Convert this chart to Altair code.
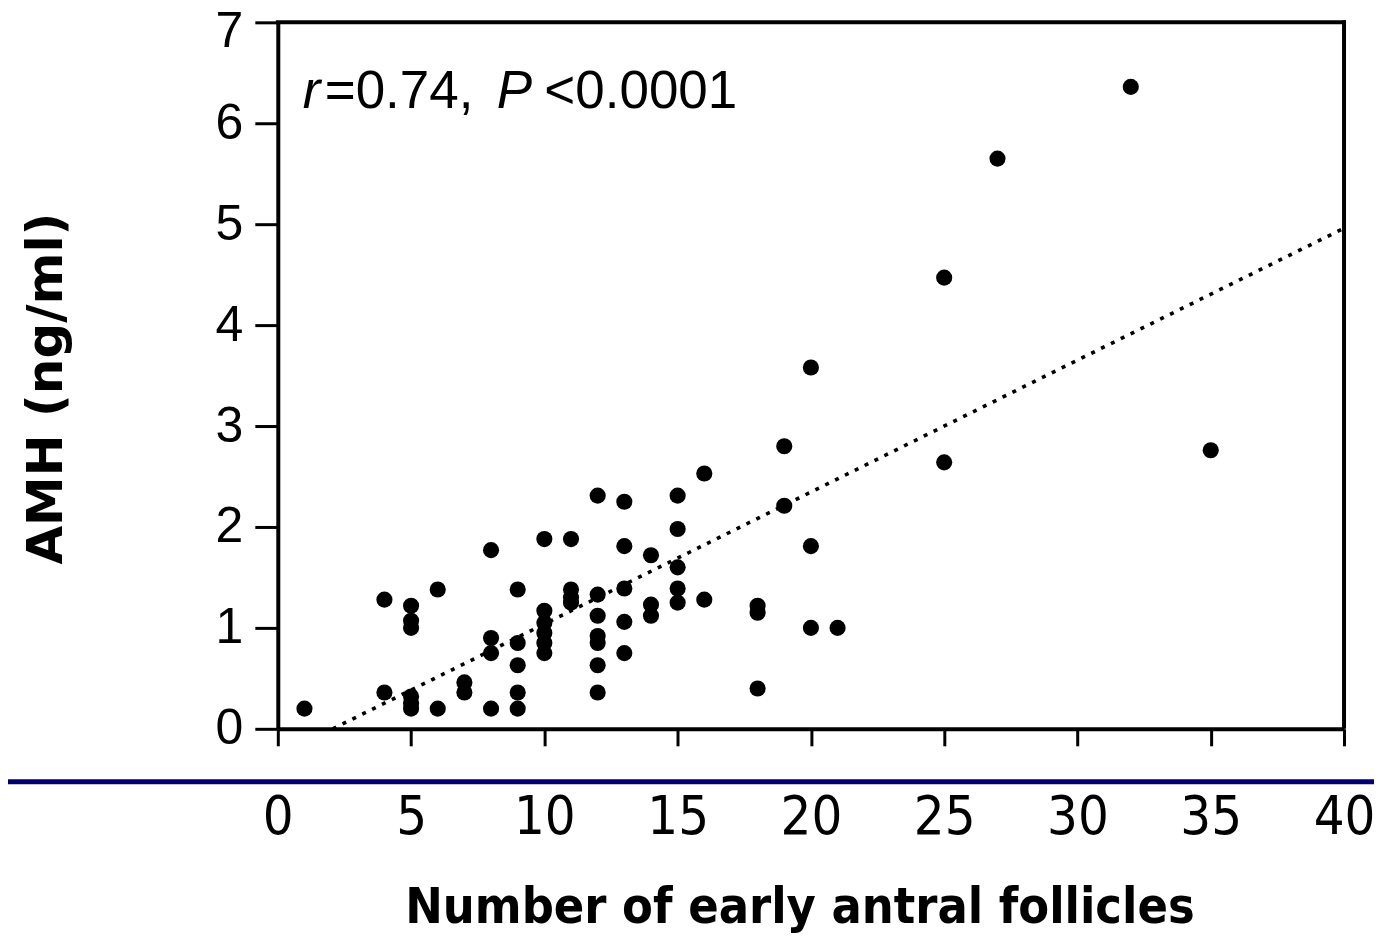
import altair as alt
import pandas as pd

# Scatter data
follicles = [1,
             4, 4,
             5, 5, 5, 5, 5, 5,
             6, 6,
             7, 7,
             8, 8, 8, 8,
             9, 9, 9, 9, 9,
             10, 10, 10, 10, 10, 10,
             11, 11, 11, 11,
             12, 12, 12, 12, 12, 12, 12,
             13, 13, 13, 13, 13,
             14, 14, 14,
             15, 15, 15, 15, 15,
             16, 16,
             18, 18, 18,
             19, 19,
             20, 20, 20,
             21,
             25, 25,
             27,
             32,
             35]
amh = [0.2,
       1.28, 0.36,
       1.22, 1.07, 1.0, 0.32, 0.25, 0.2,
       1.38, 0.2,
       0.46, 0.36,
       1.77, 0.9, 0.75, 0.2,
       1.38, 0.85, 0.63, 0.36, 0.2,
       1.88, 1.17, 1.05, 0.95, 0.85, 0.75,
       1.88, 1.38, 1.3, 1.25,
       2.31, 1.33, 1.12, 0.92, 0.85, 0.63, 0.36,
       2.25, 1.81, 1.39, 1.06, 0.75,
       1.72, 1.23, 1.12,
       2.31, 1.98, 1.6, 1.39, 1.25,
       2.53, 1.28,
       1.22, 1.15, 0.4,
       2.8, 2.21,
       3.58, 1.81, 1.0,
       1.0,
       4.47, 2.64,
       5.65,
       6.36,
       2.76]

# Regression line end points
fit_x = [2.06, 40]
fit_y = [0.0, 4.96]

# Annotation pieces
ann_text = ["r", "=0.74,", "P", "<0.0001"]
ann_x = [0.94, 1.76, 8.21, 10.0]
ann_italic = [True, False, True, False]
ann_y = 6.15

x_ticks = [0, 5, 10, 15, 20, 25, 30, 35, 40]
y_ticks = [0, 1, 2, 3, 4, 5, 6, 7]

W, H = 1067, 707

pts = pd.DataFrame({"x": follicles, "y": amh})
fit = pd.DataFrame({"x": fit_x, "y": fit_y})
ann = pd.DataFrame({"x": ann_x, "y": [ann_y] * len(ann_x), "t": ann_text, "it": ann_italic})

xs = alt.Scale(domain=[0, 40], nice=False, zero=False)
ys = alt.Scale(domain=[0, 7], nice=False, zero=False)

xaxis = alt.Axis(values=x_ticks, format="d", grid=False, tickSize=17, tickWidth=3, tickColor="black",
                 domainColor="black", domainWidth=4, labelFlush=False,
                 labelFont="Liberation Sans Narrow, DejaVu Sans Condensed, sans-serif",
                 labelFontSize=54, labelColor="black", labelPadding=45,
                 title="Number of early antral follicles",
                 titleFont="DejaVu Sans Condensed, DejaVu Sans, sans-serif",
                 titleFontWeight="bold", titleFontSize=50, titleColor="black",
                 titleX=522, titleY=194, titleAlign="center", titleBaseline="alphabetic")
yaxis = alt.Axis(values=y_ticks, format="d", grid=False, tickSize=23, tickWidth=3, tickColor="black",
                 domainColor="black", domainWidth=4, labelFlush=False,
                 labelFont="Liberation Sans", labelFontSize=50, labelColor="black",
                 labelPadding=12,
                 labelOffset={"condition": {"test": "datum.value == 7", "value": 9}, "value": 0},
                 title="AMH (ng/ml)", titleFont="DejaVu Sans", titleFontWeight="bold",
                 titleFontSize=50, titleColor="black", titleAngle=-90,
                 titleX=-216, titleY=366, titleAlign="center", titleBaseline="alphabetic")

points = alt.Chart(pts).mark_circle(color="black", opacity=1, size=260).encode(
    x=alt.X("x:Q", scale=xs, axis=xaxis),
    y=alt.Y("y:Q", scale=ys, axis=yaxis),
)

line = alt.Chart(fit).mark_line(color="black", strokeWidth=3.6, strokeDash=[4, 7]).encode(
    x=alt.X("x:Q", scale=xs),
    y=alt.Y("y:Q", scale=ys),
)

ann_it = alt.Chart(ann[ann["it"]]).mark_text(
    font="Liberation Sans", fontSize=53, fontStyle="italic", align="left",
    baseline="alphabetic", color="black"
).encode(x=alt.X("x:Q", scale=xs), y=alt.Y("y:Q", scale=ys), text="t:N")

ann_norm = alt.Chart(ann[~ann["it"]]).mark_text(
    font="Liberation Sans", fontSize=53, align="left",
    baseline="alphabetic", color="black"
).encode(x=alt.X("x:Q", scale=xs), y=alt.Y("y:Q", scale=ys), text="t:N")

base = alt.Chart(pd.DataFrame({"k": [0]}))
navy = base.mark_rule(color="#000070", strokeWidth=5).encode(
    x=alt.value(-270), x2=alt.value(1100), y=alt.value(760)
)
frame_top = base.mark_rule(color="black", strokeWidth=4).encode(
    x=alt.value(-2), x2=alt.value(W + 2), y=alt.value(0)
)
frame_right = base.mark_rule(color="black", strokeWidth=4).encode(
    x=alt.value(W), y=alt.value(-2), y2=alt.value(H)
)

chart = alt.layer(navy, frame_top, frame_right, line, points, ann_it, ann_norm).properties(
    width=W, height=H,
    autosize=alt.AutoSizeParams(type="none"),
    padding={"left": 270, "top": 14, "right": 30, "bottom": 206},
).configure_view(strokeWidth=0).configure(background="white")

chart.save("out.html", embed_options={"renderer": "svg", "actions": False})
